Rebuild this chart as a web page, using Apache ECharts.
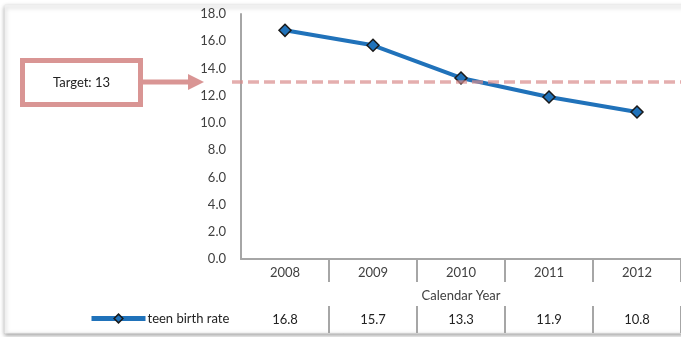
<!DOCTYPE html>
<html>
<head>
<meta charset="utf-8">
<script src="https://cdn.jsdelivr.net/npm/echarts@6/dist/echarts.min.js"></script>
<style>
html,body{margin:0;padding:0;background:#fff;}
#chart{width:681px;height:337px;}
</style>
</head>
<body>
<div id="chart"></div>
<script>
const years = ['2008', '2009', '2010', '2011', '2012'];
const teenBirthRate = [16.8, 15.7, 13.3, 11.9, 10.8];
const seriesName = 'teen birth rate';
const targetValue = 13;
const targetLabel = 'Target: 13';
const yTicks = { min: 0, max: 18, interval: 2 };
const xAxisTitle = 'Calendar Year';

const FONT = 'Lato';
const TXT = '#404040';
const chart = echarts.init(document.getElementById('chart'), null, { renderer: 'canvas' });

const tableLabels = teenBirthRate.map(v => v.toFixed(1));

chart.setOption({
  animation: false,
  backgroundColor: '#fff',
  textStyle: { fontFamily: FONT },
  grid: { left: 241, top: 14, width: 445, height: 245, containLabel: false },
  legend: {
    show: true,
    left: 84, top: 307,
    itemWidth: 54, itemHeight: 11,
    itemStyle: { borderColor: '#1a1a1a', borderWidth: 1.5 },
    lineStyle: { width: 5 },
    textStyle: { fontFamily: FONT, fontSize: 13, color: '#222', padding: [0, 0, 0, -3] },
    data: [seriesName]
  },
  xAxis: [{
    type: 'category',
    data: years,
    gridIndex: 0,
    position: 'bottom',
    name: xAxisTitle,
    nameLocation: 'middle',
    nameGap: 30,
    nameTextStyle: { fontFamily: FONT, fontSize: 13, color: TXT },
    axisLine: { show: true, lineStyle: { color: '#a6a6a6', width: 2 } },
    axisTick: { show: true, length: 23, interval: (i) => i !== 0, lineStyle: { color: '#a6a6a6', width: 2 } },
    axisLabel: { fontFamily: FONT, fontSize: 13, color: TXT, margin: 7 },
    splitLine: { show: false }
  }, {
    type: 'category',
    data: tableLabels,
    gridIndex: 0,
    position: 'bottom',
    offset: 47,
    axisLine: { show: false },
    axisTick: { show: true, length: 27, interval: (i) => i !== 0, lineStyle: { color: '#a6a6a6', width: 2 } },
    axisLabel: { fontFamily: FONT, fontSize: 13, color: '#222', margin: 7 },
    splitLine: { show: false }
  }],
  yAxis: {
    type: 'value',
    min: yTicks.min, max: yTicks.max, interval: yTicks.interval,
    axisLine: { show: true, lineStyle: { color: '#a6a6a6', width: 2 } },
    axisTick: { show: false },
    axisLabel: { fontFamily: FONT, fontSize: 13, color: TXT, margin: 15, formatter: v => v.toFixed(1) },
    splitLine: { show: true, lineStyle: { color: '#d9d9d9', width: 2 } }
  },
  series: [{
    name: seriesName,
    type: 'line',
    data: teenBirthRate,
    xAxisIndex: 0,
    symbol: 'diamond',
    symbolSize: 12,
    lineStyle: { color: '#2072ba', width: 4 },
    itemStyle: { color: '#2072ba', borderColor: '#1a1a1a', borderWidth: 1.5 },
    z: 3
  }]
});

const ty = chart.convertToPixel({ yAxisIndex: 0 }, targetValue);
chart.setOption({
  graphic: [
    { type: 'rect', silent: true, z: 0, shape: { x: 5, y: 5, width: 690, height: 328 },
      style: { fill: '#fff', stroke: '#ededed', lineWidth: 1, shadowBlur: 4, shadowColor: 'rgba(0,0,0,0.35)', shadowOffsetY: 2 } },
    { type: 'line', silent: true, z: 10, shape: { x1: 232, y1: ty, x2: 681, y2: ty },
      style: { stroke: 'rgba(217,140,139,0.7)', lineWidth: 3.5, lineDash: [11, 5] } },
    { type: 'rect', silent: true, z: 10, shape: { x: 22.5, y: ty - 21.5, width: 118, height: 44 },
      style: { fill: '#fff', stroke: '#d99594', lineWidth: 5 } },
    { type: 'text', silent: true, z: 11, x: 81.5, y: ty + 0.5,
      style: { text: targetLabel, font: '13px ' + FONT, fill: '#222', align: 'center', verticalAlign: 'middle' } },
    { type: 'rect', silent: true, z: 10, shape: { x: 143, y: ty - 2.5, width: 47, height: 5 },
      style: { fill: '#d99594' } },
    { type: 'polygon', silent: true, z: 10, shape: { points: [[188, ty - 8], [204, ty], [188, ty + 8]] },
      style: { fill: '#d99594' } }
  ]
});
</script>
</body>
</html>
